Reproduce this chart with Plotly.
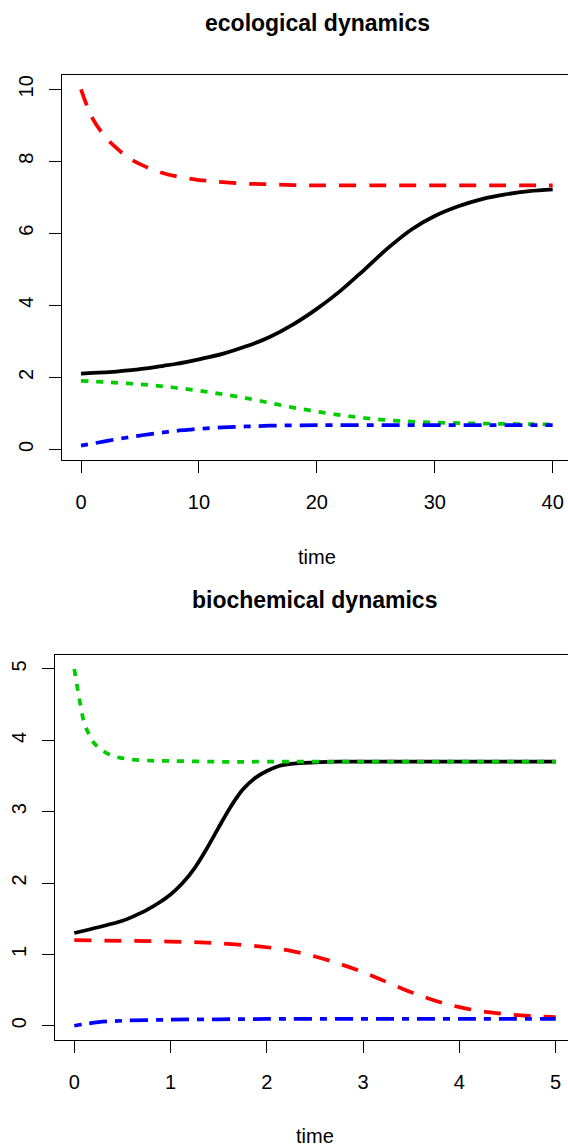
import plotly.graph_objects as go

W, H = 568, 1146
FONT = "Liberation Sans, Arial, Helvetica, sans-serif"

# ---------------- ecological dynamics (top) ----------------
eco_black_t = [0, 1, 2, 3, 4, 5, 6, 7, 8, 9, 10, 12, 14, 16, 18, 20, 22, 24, 26, 28, 30, 32, 34, 36, 38, 40]
eco_black_v = [2.10, 2.12, 2.14, 2.16, 2.19, 2.23, 2.27, 2.32, 2.37, 2.43, 2.50, 2.65, 2.86, 3.12, 3.47,
               3.90, 4.40, 4.98, 5.58, 6.10, 6.48, 6.75, 6.95, 7.08, 7.17, 7.22]

eco_red_t = [0, 0.5, 1, 2, 3, 4, 5, 6, 7, 8, 9, 10, 11, 12, 14, 16, 18, 20, 25, 30, 35, 40]
eco_red_v = [10.0, 9.55, 9.18, 8.70, 8.37, 8.10, 7.92, 7.78, 7.67, 7.59, 7.53, 7.48, 7.45, 7.42, 7.38,
             7.36, 7.34, 7.33, 7.33, 7.33, 7.33, 7.33]

eco_green_t = [0, 2, 4, 6, 8, 10, 12, 14, 16, 18, 20, 22, 24, 26, 28, 30, 32, 34, 36, 38, 40]
eco_green_v = [1.90, 1.87, 1.83, 1.78, 1.71, 1.63, 1.53, 1.42, 1.29, 1.16, 1.05, 0.95, 0.87, 0.81,
               0.77, 0.745, 0.73, 0.715, 0.705, 0.70, 0.69]

eco_blue_t = [0, 1, 2, 3, 4, 5, 6, 7, 8, 9, 10, 12, 14, 16, 18, 20, 25, 30, 35, 40]
eco_blue_v = [0.10, 0.16, 0.22, 0.28, 0.33, 0.38, 0.43, 0.47, 0.51, 0.54, 0.57, 0.61, 0.635, 0.655,
              0.665, 0.67, 0.67, 0.67, 0.67, 0.67]

# ---------------- biochemical dynamics (bottom) ----------------
bio_black_t = [0, 0.25, 0.5, 0.625, 0.75, 0.875, 1.0, 1.125, 1.25, 1.375, 1.5, 1.625, 1.75, 1.875, 2.0,
               2.125, 2.25, 2.5, 2.75, 3, 4, 5]
bio_black_v = [1.30, 1.38, 1.47, 1.54, 1.62, 1.72, 1.84, 2.00, 2.21, 2.48, 2.78, 3.07, 3.31, 3.47, 3.57,
               3.64, 3.67, 3.69, 3.70, 3.70, 3.70, 3.70]

bio_red_t = [0, 0.5, 1.0, 1.5, 2.0, 2.25, 2.5, 2.75, 3.0, 3.25, 3.5, 3.75, 4.0, 4.25, 4.5, 4.75, 5.0]
bio_red_v = [1.20, 1.19, 1.18, 1.155, 1.10, 1.05, 0.97, 0.87, 0.75, 0.61, 0.47, 0.35, 0.26, 0.20,
             0.16, 0.135, 0.12]

bio_green_t = [0, 0.05, 0.1, 0.15, 0.2, 0.3, 0.4, 0.5, 0.6, 0.8, 1.0, 1.5, 2, 3, 4, 5]
bio_green_v = [5.00, 4.60, 4.26, 4.09, 3.97, 3.85, 3.78, 3.75, 3.73, 3.715, 3.71, 3.70, 3.70, 3.70, 3.70, 3.70]

bio_blue_t = [0, 0.25, 0.5, 1.0, 1.5, 2, 3, 4, 5]
bio_blue_v = [0.0, 0.05, 0.07, 0.085, 0.09, 0.095, 0.095, 0.095, 0.095]

eco_xticks = [0, 10, 20, 30, 40]
eco_yticks = [0, 2, 4, 6, 8, 10]
bio_xticks = [0, 1, 2, 3, 4, 5]
bio_yticks = [0, 1, 2, 3, 4, 5]

LW = 3.75
styles = {
    "black": dict(color="#000000", width=LW, dash="solid"),
    "red": dict(color="#FF0000", width=LW, dash="17px,13px"),
    "green": dict(color="#00CD00", width=LW, dash="7px,8px"),
    "blue": dict(color="#0000FF", width=LW, dash="7px,8px,18px,8px"),
}

fig = go.Figure()
for name, t, v in [("black", eco_black_t, eco_black_v), ("red", eco_red_t, eco_red_v),
                   ("green", eco_green_t, eco_green_v), ("blue", eco_blue_t, eco_blue_v)]:
    fig.add_trace(go.Scatter(x=t, y=v, mode="lines", line=dict(shape="spline", smoothing=1.0, **styles[name]),
                             xaxis="x", yaxis="y", hoverinfo="skip"))
for name, t, v in [("black", bio_black_t, bio_black_v), ("red", bio_red_t, bio_red_v),
                   ("green", bio_green_t, bio_green_v), ("blue", bio_blue_t, bio_blue_v)]:
    fig.add_trace(go.Scatter(x=t, y=v, mode="lines", line=dict(shape="spline", smoothing=1.0, **styles[name]),
                             xaxis="x2", yaxis="y2", hoverinfo="skip"))

common = dict(ticks="outside", ticklen=12, tickwidth=1, tickcolor="black", showline=True,
              linecolor="black", linewidth=1, showgrid=False, zeroline=False, automargin=False,
              tickfont=dict(family=FONT, size=20, color="black"))

# pixel geometry
top_left, top_top, top_bot = 62.13, 74.9, 460.0
bot_left, bot_top, bot_bot = 55.04, 654.7, 1040.0

fig.update_layout(
    template="none",
    width=W, height=H,
    margin=dict(l=0, r=0, t=0, b=0),
    paper_bgcolor="white", plot_bgcolor="white",
    showlegend=False,
    font=dict(family=FONT, size=20, color="black"),
    xaxis=dict(domain=[top_left / W, 1], range=[-1.6, 41.30], anchor="y", tickvals=eco_xticks,
               mirror=True, ticklabelstandoff=12, **common),
    yaxis=dict(domain=[1 - top_bot / H, 1 - top_top / H], range=[-0.297, 10.40], anchor="x",
               tickvals=eco_yticks, tickangle=-90, mirror=False, ticklabelstandoff=8, **common),
    xaxis2=dict(domain=[bot_left / W, 1], range=[-0.2, 5.128], anchor="y2", tickvals=bio_xticks,
                mirror=True, ticklabelstandoff=12, **common),
    yaxis2=dict(domain=[1 - bot_bot / H, 1 - bot_top / H], range=[-0.2, 5.2], anchor="x2",
                tickvals=bio_yticks, tickangle=-90, mirror=False, ticklabelstandoff=8, **common),
)

def ann(text, xpx, ypx, size, bold=False):
    fig.add_annotation(text=f"<b>{text}</b>" if bold else text, x=xpx / W, y=1 - ypx / H,
                       xref="paper", yref="paper", xanchor="center", yanchor="middle",
                       showarrow=False, font=dict(family=FONT, size=size, color="black"))

ann("ecological dynamics", 317.0, 23, 23, bold=True)
ann("time", 316.5, 557, 20)
ann("biochemical dynamics", 314.7, 600, 23, bold=True)
ann("time", 315.0, 1136, 20)

fig.write_html("out.html")
